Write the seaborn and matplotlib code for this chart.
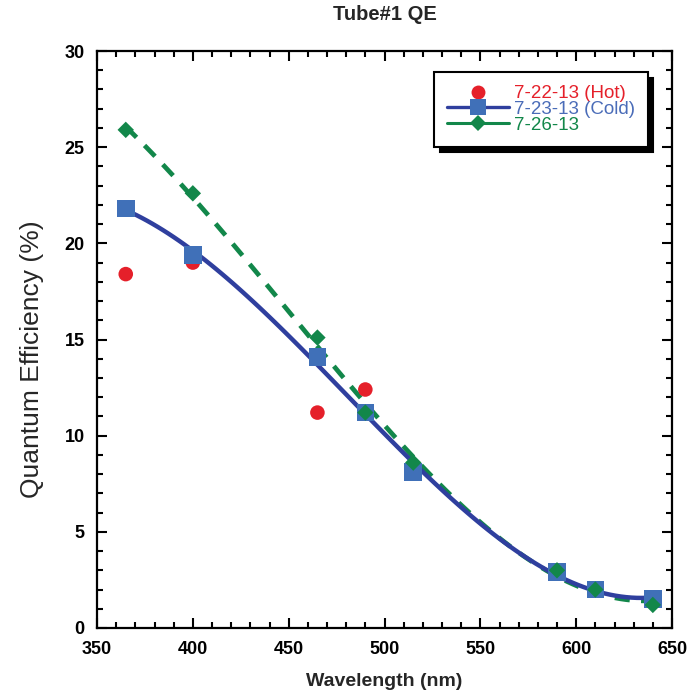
import matplotlib
matplotlib.use("Agg")
import matplotlib.pyplot as plt
from matplotlib.lines import Line2D
from matplotlib.ticker import MultipleLocator
import seaborn as sns
import pandas as pd

# ---- data ----
wl_hot = [365, 400, 465, 490]
qe_hot = [18.4, 19.0, 11.2, 12.4]

wl_cold = [365, 400, 465, 490, 515, 590, 610, 640]
qe_cold = [21.8, 19.4, 14.1, 11.2, 8.1, 2.9, 2.0, 1.5]

wl_726 = [365, 400, 465, 490, 515, 590, 610, 640]
qe_726 = [25.9, 22.6, 15.1, 11.2, 8.6, 3.0, 2.0, 1.2]

labels = ["7-22-13 (Hot)", "7-23-13 (Cold)", "7-26-13"]
x_ticks = [350, 400, 450, 500, 550, 600, 650]
y_ticks = [0, 5, 10, 15, 20, 25, 30]

sns.set_theme(style="white")
plt.rcParams["font.family"] = ["Liberation Sans", "DejaVu Sans"]

RED = "#e5202a"
BLUE_M = "#4070b8"
BLUE_L = "#2f3f9e"
GREEN = "#12874a"

df_hot = pd.DataFrame({"wl": wl_hot, "qe": qe_hot})
df_cold = pd.DataFrame({"wl": wl_cold, "qe": qe_cold})
df_726 = pd.DataFrame({"wl": wl_726, "qe": qe_726})

fig = plt.figure(figsize=(6.99, 6.92), dpi=100)
ax = fig.add_axes([97 / 699, 1 - 628 / 692, (672 - 97) / 699, (628 - 51) / 692])

# fitted curves
sns.regplot(data=df_726, x="wl", y="qe", order=3, ci=None, scatter=False, ax=ax,
            line_kws=dict(color=GREEN, lw=3.4, ls=(0, (3.2, 2.4)), zorder=2))
sns.regplot(data=df_cold, x="wl", y="qe", order=3, ci=None, scatter=False, ax=ax,
            line_kws=dict(color=BLUE_L, lw=3.2, zorder=3))

# markers
sns.scatterplot(data=df_hot, x="wl", y="qe", ax=ax, color=RED, marker="o",
                s=110, edgecolor="none", zorder=4)
sns.scatterplot(data=df_cold, x="wl", y="qe", ax=ax, color=BLUE_M, marker="s",
                s=160, edgecolor="none", zorder=5)
sns.scatterplot(data=df_726, x="wl", y="qe", ax=ax, color=GREEN, marker="D",
                s=70, edgecolor="none", zorder=6)

ax.set_xlim(350, 650)
ax.set_ylim(0, 30)
ax.set_xticks(x_ticks)
ax.set_yticks(y_ticks)
ax.set_xticklabels([str(t) for t in x_ticks])
ax.set_yticklabels([str(t) for t in y_ticks])
ax.xaxis.set_minor_locator(MultipleLocator(10))
ax.yaxis.set_minor_locator(MultipleLocator(1))
ax.tick_params(which="both", direction="in", top=True, right=True, bottom=True, left=True,
               colors="black", width=1.5)
ax.tick_params(which="major", length=7, labelsize=13, pad=9)
ax.tick_params(which="minor", length=4)
for lab in ax.get_xticklabels() + ax.get_yticklabels():
    lab.set_fontweight("bold")
for sp in ax.spines.values():
    sp.set_visible(True)
    sp.set_color("black")
    sp.set_linewidth(1.6)

ax.set_xlabel("Wavelength (nm)", fontsize=14, fontweight="bold", labelpad=11)
ax.set_ylabel("Quantum Efficiency (%)", fontsize=19)
ax.yaxis.set_label_coords(-0.092, 0.466)
ax.set_title("Tube#1 QE", fontsize=14.5, fontweight="bold", pad=22)

handles = [
    Line2D([], [], color=RED, marker="o", ls="none", markersize=10, markeredgewidth=0),
    Line2D([], [], color=BLUE_L, marker="s", markerfacecolor=BLUE_M, lw=2.4,
           markersize=12, markeredgewidth=0),
    Line2D([], [], color=GREEN, marker="D", lw=2.2, markersize=8, markeredgewidth=0),
]
leg = ax.legend(handles, labels, loc="upper right", bbox_to_anchor=(0.958, 0.963),
                fontsize=13.5, frameon=True, fancybox=False, framealpha=1,
                edgecolor="black", labelspacing=-0.07, handlelength=3.3,
                handletextpad=0.27, borderpad=0.68, borderaxespad=0.0,
                shadow={"color": "black", "alpha": 1, "ox": 4, "oy": -4})
leg.get_frame().set_linewidth(1.5)
for txt, c in zip(leg.get_texts(), [RED, "#4a6cb8", GREEN]):
    txt.set_color(c)

fig.savefig("out.png", dpi=100, facecolor="white")
